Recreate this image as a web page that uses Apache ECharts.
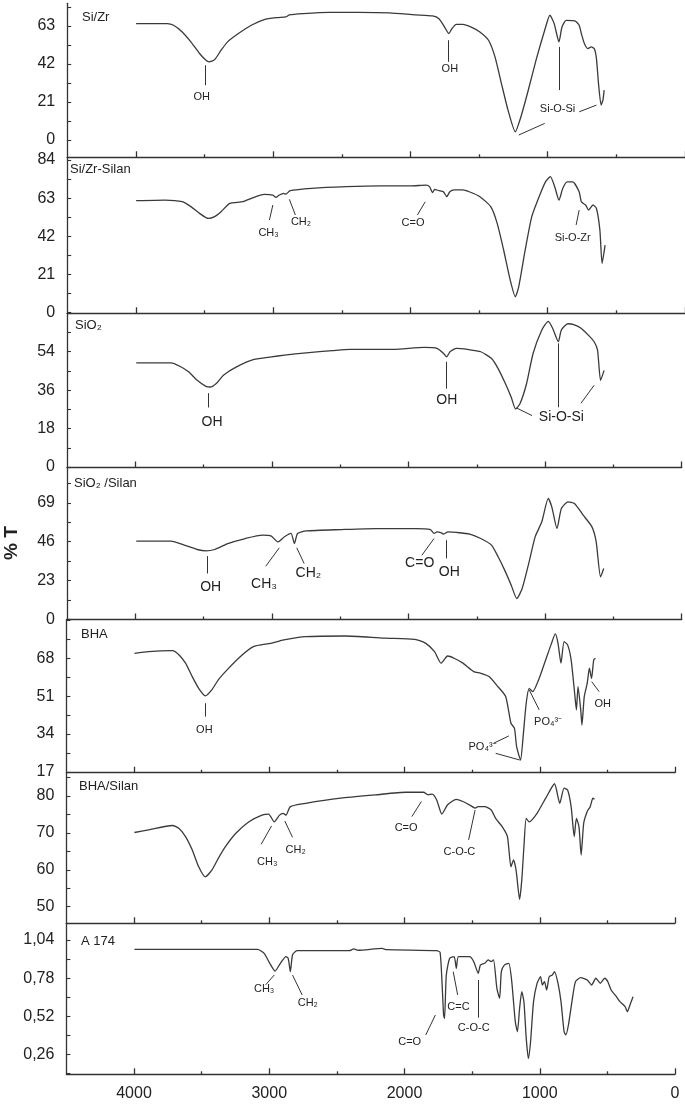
<!DOCTYPE html>
<html><head><meta charset="utf-8">
<script src="https://cdn.jsdelivr.net/npm/echarts@6/dist/echarts.min.js"></script>
<style>html,body{margin:0;padding:0;background:#fff}#c{width:685px;height:1104px}</style>
</head><body><div id="c"></div><script>
// ---------- DATA (wavenumber cm-1, transmittance) ----------
const xMajorTicks = [0, 1000, 2000, 3000, 4000];
const xMinorTicks = [500, 1500, 2500, 3500];

const siZrWn = [3998,3772,3725,3662,3599,3536,3489,3467,3426,3379,3332,3253,3159,3065,2970,2907,2882,2782,2593,2373,2153,1965,1839,1792,1751,1720,1698,1666,1619,1557,1494,1431,1384,1337,1289,1236,1195,1148,1085,1022,984,953,918,896,865,802,771,755,733,708,683,661,645,630,611,598,589];
const siZrT = [64.3,64.3,63.4,59.7,54.2,47.8,44.1,43.2,44.4,49.6,54.2,58.8,63.4,66.5,67.6,68.0,69.1,69.8,70.5,70.5,70.2,69.1,68.5,67.0,62.4,58.8,61.5,63.9,63.9,62.4,59.7,55.1,45.9,31.2,16.5,4.6,12.9,25.7,44.1,60.6,68.9,64.3,54.2,62.4,66.1,65.8,63.4,58.8,53.3,50.5,51.4,50.5,45.0,31.2,19.3,22.0,27.6];
const siZrTicks = [0,21,42,63];

const siZrSilanWn = [3998,3787,3662,3599,3536,3473,3426,3379,3316,3221,3159,3065,3002,2980,2955,2923,2907,2876,2719,2467,2216,1996,1886,1861,1839,1823,1792,1760,1735,1713,1682,1619,1572,1494,1415,1368,1321,1273,1236,1211,1164,1116,1053,1015,981,949,918,890,858,818,771,755,724,702,670,645,620,604,582];
const siZrSilanT = [61.6,61.9,61.0,58.3,54.6,51.8,52.8,55.5,60.1,61.0,62.9,65.1,64.7,63.4,64.7,65.6,65.2,67.1,68.4,69.3,69.7,69.7,70.2,69.3,66.0,67.8,67.1,66.5,63.8,66.5,67.5,67.5,66.5,63.8,58.3,49.1,34.4,17.8,8.6,14.2,34.4,52.8,65.6,72.1,74.8,69.3,61.9,68.4,71.9,71.9,66.5,61.0,59.2,56.4,59.2,57.3,45.4,27.0,37.1];
const siZrSilanTicks = [0,21,42,63,84];

const sio2Wn = [3993,3738,3674,3610,3547,3483,3451,3403,3355,3259,3131,3004,2908,2748,2557,2429,2110,1887,1791,1743,1721,1696,1648,1568,1471,1392,1344,1296,1248,1216,1184,1136,1088,1024,977,945,903,881,833,785,737,673,641,616,594,568];
const sio2T = [48.8,48.8,47.2,44.6,40.6,37.8,37.5,39.4,43.0,46.9,50.4,51.6,52.4,53.5,54.5,55.1,55.1,56.0,55.6,53.2,51.6,54.0,55.6,55.1,54.0,50.8,46.1,39.8,32.7,27.2,29.6,39.0,53.2,64.2,68.2,65.0,58.7,64.2,67.1,66.6,65.0,61.1,58.7,54.8,40.6,45.3];
const sio2Ticks = [0,18,36,54];

const sio2SilanWn = [3993,3738,3642,3547,3483,3419,3323,3195,3068,3004,2956,2908,2860,2835,2812,2748,2493,2238,1950,1839,1813,1791,1759,1743,1711,1648,1551,1471,1392,1344,1296,1248,1207,1168,1120,1073,1024,977,951,913,881,833,785,721,657,626,594,571];
const sio2SilanT = [46.3,46.3,44.0,41.4,40.6,41.4,44.9,47.9,49.9,49.3,45.9,48.9,50.9,44.9,50.9,52.4,53.2,53.8,53.8,53.2,50.9,51.8,51.3,50.5,51.8,51.5,50.5,47.9,44.0,37.1,29.2,20.3,12.4,18.3,33.1,48.9,57.8,71.6,66.6,53.8,65.6,69.6,68.6,61.7,54.8,45.9,25.2,30.2];
const sio2SilanTicks = [0,23,46,69];

const bhaWn = [3997,3893,3716,3667,3619,3570,3522,3473,3425,3377,3312,3215,3118,2989,2892,2731,2440,2150,1924,1843,1778,1730,1681,1633,1568,1488,1439,1375,1310,1252,1213,1187,1171,1142,1123,1100,1078,1052,1004,956,917,885,865,843,820,794,768,742,729,717,697,688,671,649,633,617,601,588];
const bhaT = [70.2,71.0,71.4,69.5,65.8,59.8,54.5,51.1,53.8,58.3,62.8,68.7,73.2,74.7,76.2,77.7,78.0,77.0,76.5,74.7,71.0,65.8,69.0,68.0,65.8,62.0,61.3,59.8,55.3,50.8,38.8,36.5,28.3,22.3,32.8,47.9,54.5,53.0,59.0,67.3,74.0,78.9,74.7,65.8,75.5,74.0,67.3,52.3,44.8,55.3,44.8,38.0,50.8,56.8,63.5,59.0,67.3,68.0];
const bhaTicks = [17,34,51,68];

const bhaSilanWn = [3997,3893,3716,3667,3619,3570,3522,3473,3425,3377,3328,3247,3150,3054,3005,2963,2924,2898,2876,2844,2731,2473,2214,1988,1859,1827,1795,1762,1724,1681,1617,1568,1520,1478,1455,1407,1359,1326,1278,1239,1213,1194,1175,1149,1133,1117,1100,1078,1020,956,891,852,820,794,768,745,729,710,694,675,649,627,607,595];
const bhaSilanT = [70.1,70.8,72.0,71.2,69.0,65.4,60.8,58.1,59.9,63.1,66.1,69.9,73.0,74.8,75.1,73.0,74.8,75.3,74.8,77.1,78.0,79.4,80.3,81.0,81.0,80.3,80.5,78.9,75.1,77.6,79.1,78.5,77.6,76.7,77.1,77.1,76.2,73.9,71.7,69.0,60.8,62.7,59.9,52.0,57.2,66.3,73.9,73.0,75.3,79.4,83.3,78.0,82.1,81.6,77.1,69.0,73.9,71.7,64.0,72.6,75.8,77.1,79.4,79.1];
const bhaSilanTicks = [50,60,70,80];

const a174Wn = [3997,3377,3086,3038,2996,2957,2918,2876,2860,2844,2828,2795,2408,2376,2343,2166,2133,1762,1737,1723,1711,1704,1691,1666,1633,1617,1601,1520,1488,1455,1439,1407,1381,1359,1342,1317,1297,1284,1262,1229,1207,1181,1165,1149,1133,1117,1100,1084,1068,1046,1020,994,981,965,949,930,907,891,865,843,820,807,788,762,736,697,649,617,585,552,520,497,472,433,407,369,352,333,310];
const a174T = [0.976,0.976,0.976,0.949,0.881,0.828,0.881,0.926,0.915,0.824,0.938,0.967,0.967,0.979,0.970,0.983,0.974,0.967,0.956,0.756,0.528,0.505,0.801,0.915,0.926,0.847,0.926,0.926,0.892,0.813,0.869,0.881,0.904,0.892,0.904,0.710,0.642,0.824,0.869,0.881,0.756,0.483,0.414,0.574,0.687,0.619,0.369,0.232,0.346,0.619,0.744,0.790,0.733,0.756,0.699,0.790,0.801,0.824,0.744,0.619,0.414,0.392,0.460,0.619,0.756,0.783,0.767,0.733,0.779,0.745,0.779,0.756,0.699,0.653,0.619,0.585,0.551,0.597,0.653];
const a174Ticks = [0.26,0.52,0.78,1.04];

// ---------- band annotations (data coordinates) ----------
const siZrNotes = [
  {text:'OH', at:[3520,23.9], lines:[[3498,41.3,3498,30.3]]},
  {text:'OH', at:[1713,39.5], lines:[[1723,55.1,1723,43.2]]},
  {text:'Si-O-Si', at:[928,17.4], lines:[[918,51.4,918,27.6],[1211,2.8,1022,9.2],[771,15.6,645,19.3]]}
];
const siZrSilanNotes = [
  {text:'CH₃', at:[3033,43.6], lines:[[3002,59.2,3027,50.9]]},
  {text:'CH₂', at:[2797,50.0], lines:[[2882,62.3,2838,53.7]]},
  {text:'C=O', at:[1981,49.1], lines:[[1892,61.0,1949,53.7]]},
  {text:'Si-O-Zr', at:[818,40.8], lines:[[771,56.4,793,48.2]]}
];
const sio2Notes = [
  {text:'OH', at:[3438,20.9], lines:[[3464,34.6,3464,27.9]]},
  {text:'OH', at:[1720,31.2], lines:[[1720,49.3,1720,36.7]]},
  {text:'Si-O-Si', at:[881,23.3], lines:[[1210,27.7,1095,24.1],[903,57.9,903,28.0],[737,29.9,641,38.3]]}
];
const sio2SilanNotes = [
  {text:'OH', at:[3448,19.3], lines:[[3473,37.5,3473,27.2]]},
  {text:'CH₃', at:[3058,20.9], lines:[[2946,42.4,3045,31.5]]},
  {text:'CH₂', at:[2733,27.2], lines:[[2818,42.4,2764,33.1]]},
  {text:'C=O', at:[1918,33.1], lines:[[1813,47.9,1902,38.0]]},
  {text:'OH', at:[1701,28.2], lines:[[1727,46.9,1727,36.1]]}
];
const bhaNotes = [
  {text:'OH', at:[3480,35.8], lines:[[3473,47.8,3473,41.8]]},
  {text:'PO₄³⁻', at:[1423,28.3], lines:[[1342,29.8,1229,33.1],[1326,25.3,1148,22.3]]},
  {text:'PO₄³⁻', at:[938,39.5], lines:[[1078,53.8,1004,44.8]]},
  {text:'OH', at:[535,47.5], lines:[[616,57.5,561,53.0]]}
];
const bhaSilanNotes = [
  {text:'CH₃', at:[3015,62.2], lines:[[2983,71.9,3060,66.9]]},
  {text:'CH₂', at:[2805,65.4], lines:[[2885,73.2,2828,68.8]]},
  {text:'C=O', at:[1988,71.2], lines:[[1875,78.5,1946,74.4]]},
  {text:'C-O-C', at:[1594,64.9], lines:[[1478,76.2,1526,68.1]]}
];
const a174Notes = [
  {text:'CH₃', at:[3038,0.706], lines:[[2963,0.801,3028,0.733]]},
  {text:'CH₂', at:[2715,0.608], lines:[[2828,0.801,2757,0.665]]},
  {text:'C=O', at:[1962,0.346], lines:[[1772,0.528,1843,0.392]]},
  {text:'C=C', at:[1601,0.585], lines:[[1640,0.824,1607,0.665]]},
  {text:'C-O-C', at:[1488,0.437], lines:[[1455,0.767,1455,0.510]]}
];

// ---------- layout ----------
const FONT = "'Liberation Sans', Arial, Helvetica, sans-serif";
const half = (arr, step, max) => { const r=[]; for (let v=arr[0]; v<=max+1e-9; v+=step) r.push(+v.toFixed(4)); return r; };
const panels = [
  {name:'Si/Zr', wn:siZrWn, t:siZrT, notes:siZrNotes, labels:siZrTicks, ticks:half(siZrTicks,10.5,75), left:67.2, width:625.1, top:3.3, height:154, min:-9.5, max:75.5, noteSize:11, tl:82, tt:11},
  {name:'Si/Zr-Silan', wn:siZrSilanWn, t:siZrSilanT, notes:siZrSilanNotes, labels:siZrSilanTicks, ticks:half(siZrSilanTicks,10.5,85), left:67.2, width:625.1, top:157.3, height:156, min:-0.5, max:85.5, noteSize:11, tl:70, tt:163},
  {name:'SiO₂', wn:sio2Wn, t:sio2T, notes:sio2Notes, labels:sio2Ticks, ticks:half(sio2Ticks,9,72), left:67, width:614.7, top:313.3, height:154.2, min:-0.2, max:72, noteSize:14, tl:75, tt:319},
  {name:'SiO₂ /Silan', wn:sio2SilanWn, t:sio2SilanT, notes:sio2SilanNotes, labels:sio2SilanTicks, ticks:half(sio2SilanTicks,11.5,89), left:67, width:614.7, top:467.5, height:152, min:0, max:89.9, noteSize:14, tl:74, tt:477},
  {name:'BHA', wn:bhaWn, t:bhaT, notes:bhaNotes, labels:bhaTicks, ticks:half(bhaTicks,8.5,85), left:66.4, width:608.6, top:619.5, height:153.2, min:16.6, max:85.4, noteSize:11, tl:81, tt:628},
  {name:'BHA/Silan', wn:bhaSilanWn, t:bhaSilanT, notes:bhaSilanNotes, labels:bhaSilanTicks, ticks:half(bhaSilanTicks,5,86), left:66.4, width:608.6, top:772.7, height:150.6, min:45.5, max:86.3, noteSize:11, tl:79, tt:780},
  {name:'A 174', wn:a174Wn, t:a174T, notes:a174Notes, labels:a174Ticks, ticks:[0.13,0.26,0.39,0.52,0.65,0.78,0.91,1.04], left:66.4, width:608.6, top:923.3, height:151, min:0.1235, max:1.154, noteSize:11, tl:81, tt:935, comma:true}
];

const AX = '#333', TXT = '#222';
const grid=[], xAxis=[], yAxis=[], series=[], title=[];
panels.forEach((p,i)=>{
  const last = i === panels.length-1;
  grid.push({left:p.left, top:p.top, width:p.width, height:p.height, containLabel:false});
  xAxis.push({type:'value', gridIndex:i, position:'bottom', min:0, max:4500, inverse:true,
    axisLine:{show:true, onZero:false, lineStyle:{color:AX, width:1.3}},
    axisTick:{show:true, inside:true, length:6, customValues:xMajorTicks, lineStyle:{color:AX, width:1.3}},
    axisLabel:{show:last, customValues:xMajorTicks, margin:11, fontSize:16, color:TXT, fontFamily:FONT,
      formatter: v => String(Math.round(v))},
    splitLine:{show:false}});
  xAxis.push({type:'value', gridIndex:i, position:'bottom', min:0, max:4500, inverse:true,
    axisLine:{show:false, onZero:false},
    axisTick:{show:true, inside:true, length:3, customValues:xMinorTicks, lineStyle:{color:AX, width:1.3}},
    axisLabel:{show:false}, splitLine:{show:false}});
  yAxis.push({type:'value', gridIndex:i, min:p.min, max:p.max,
    axisLine:{show:true, onZero:false, lineStyle:{color:AX, width:1.3}},
    axisTick:{show:true, inside:true, length:4, customValues:p.ticks, lineStyle:{color:AX, width:1.1}},
    axisLabel:{show:true, customValues:p.labels, margin:12, fontSize:16, color:TXT, fontFamily:FONT,
      formatter: v => p.comma ? v.toFixed(2).replace('.', ',') : String(Math.round(v))},
    splitLine:{show:false}});
  series.push({type:'line', xAxisIndex:2*i, yAxisIndex:i, showSymbol:false, smooth:0.2,
    lineStyle:{color:'#3a3a3a', width:1.3}, silent:true,
    data:p.wn.map((w,k)=>[w,p.t[k]]),
    markLine:{silent:true, symbol:['none','none'], animation:false, label:{show:false},
      lineStyle:{color:'#333', width:1, type:'solid'},
      data:p.notes.flatMap(n=>n.lines.map(l=>[{coord:[l[0],l[1]]},{coord:[l[2],l[3]]}]))},
    markPoint:{silent:true, symbol:'rect', symbolSize:1, animation:false, itemStyle:{color:'rgba(0,0,0,0)'},
      label:{show:true, position:'inside', formatter:'{b}', color:TXT, fontSize:p.noteSize, fontFamily:FONT},
      data:p.notes.map(n=>({name:n.text, coord:n.at}))}
  });
  title.push({text:p.name, left:p.tl, top:p.tt, padding:0,
    textStyle:{fontSize:13, fontWeight:'normal', color:TXT, fontFamily:FONT}});
});

const chart = echarts.init(document.getElementById('c'), null, {renderer:'canvas'});
chart.setOption({
  animation:false, backgroundColor:'#fff',
  title, grid, xAxis, yAxis, series,
  graphic:[{type:'text', x:12, y:543, rotation:Math.PI/2,
    style:{text:'% T', fontSize:19, fontWeight:'bold', fill:TXT, align:'center', verticalAlign:'middle', fontFamily:FONT}}]
});
</script></body></html>
